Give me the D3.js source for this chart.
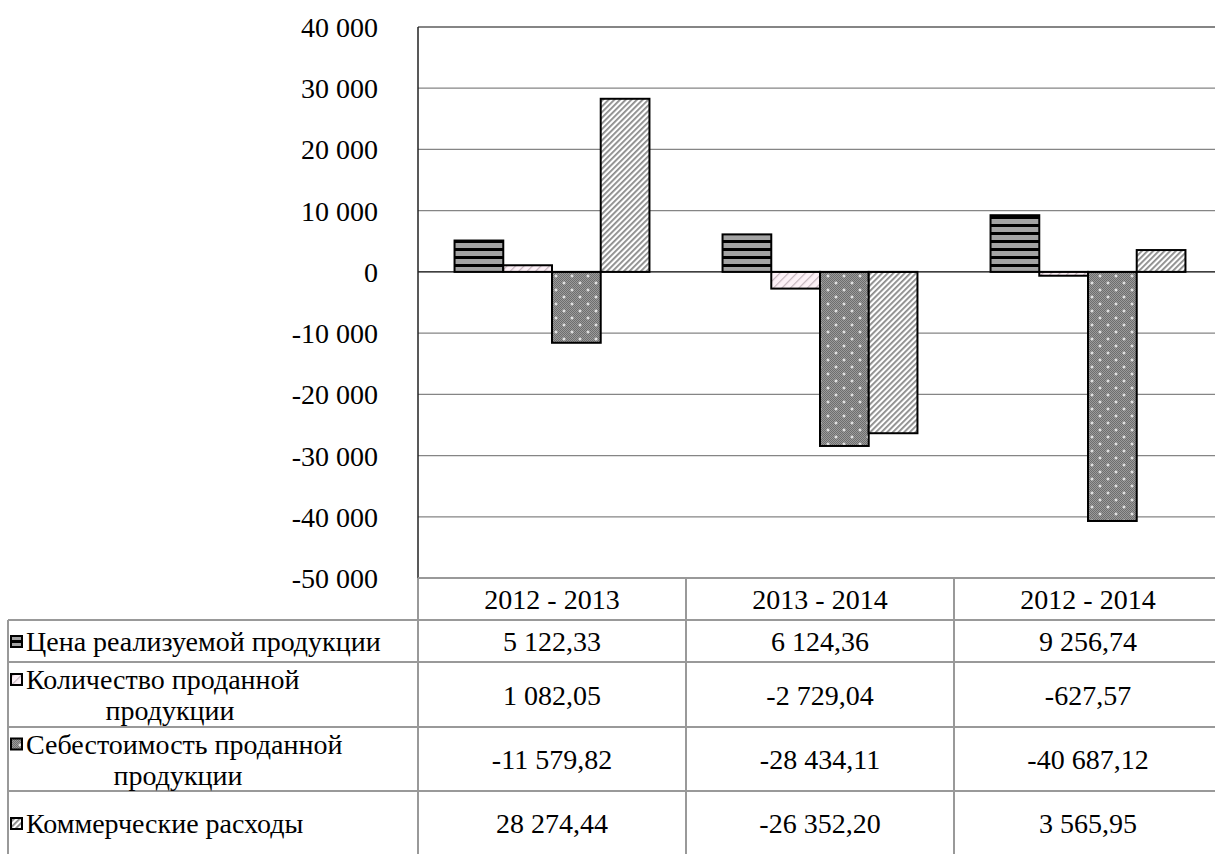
<!DOCTYPE html>
<html>
<head>
<meta charset="utf-8">
<script src="https://cdn.jsdelivr.net/npm/d3@7"></script>
<style>
  body { margin: 0; background: #fff; }
</style>
</head>
<body>
<div id="chart"></div>
<script>
// periods on the x axis (also the table header)
const periods = ["2012 - 2013", "2013 - 2014", "2012 - 2014"];

// series names, split the way the table wraps them
const seriesLabels = [
  ["Цена реализуемой продукции"],
  ["Количество проданной", "продукции"],
  ["Себестоимость проданной", "продукции"],
  ["Коммерческие расходы"]
];

// values per series, one per period
const priceValues = [5122.33, 6124.36, 9256.74];
const quantityValues = [1082.05, -2729.04, -627.57];
const costValues = [-11579.82, -28434.11, -40687.12];
const commercialValues = [28274.44, -26352.20, 3565.95];

const yTicks = [40000, 30000, 20000, 10000, 0, -10000, -20000, -30000, -40000, -50000];

const seriesValues = [priceValues, quantityValues, costValues, commercialValues];
const patternIds = ["p-price", "p-quantity", "p-cost", "p-commercial"];

const ru = d3.formatLocale({
  decimal: ",",
  thousands: " ",
  grouping: [3],
  currency: ["", ""],
  minus: "-"
});
const fmtTick = ru.format(",.0f");
const fmtValue = ru.format(",.2f");

class BarTable {
  constructor() {
    this.config = {
      parentElement: "#chart",
      width: 1215,
      height: 854,
      plotLeft: 418,
      plotRight: 1222,
      plotTop: 27,
      plotBottom: 578,
      tableLeft: 8,
      headerHeight: 42,
      rowHeights: [42, 65, 64, 64],
      wrapCenters: [0, 170, 178, 0], // x of the centred 2nd line of a wrapped label
      fontSize: 28
    };
    this.initVis();
  }

  initVis() {
    const vis = this;
    const c = vis.config;

    vis.svg = d3.select(c.parentElement)
      .append("svg")
      .attr("width", c.width)
      .attr("height", c.height);

    vis.addPatterns();

    vis.xScale = d3.scaleBand().domain(periods).range([c.plotLeft, c.plotRight]);
    vis.yScale = d3.scaleLinear()
      .domain([d3.min(yTicks), d3.max(yTicks)])
      .range([c.plotBottom, c.plotTop]);

    // bars: 4 per group, gap width 150%
    const band = vis.xScale.bandwidth();
    vis.barWidth = band / (seriesValues.length + 1.5);
    vis.innerScale = d3.scaleBand()
      .domain(d3.range(seriesValues.length))
      .range([0, vis.barWidth * seriesValues.length]);

    vis.updateVis();
  }

  addPatterns() {
    const defs = this.svg.append("defs");

    // horizontal black / grey stripes
    const p1 = defs.append("pattern").attr("id", "p-price")
      .attr("patternUnits", "userSpaceOnUse").attr("width", 8).attr("height", 8);
    p1.append("rect").attr("width", 8).attr("height", 8).attr("fill", "#a3a3a3");
    p1.append("rect").attr("width", 8).attr("height", 3).attr("fill", "#000");

    // pale pink with sparse diagonal hatch
    const p2 = defs.append("pattern").attr("id", "p-quantity")
      .attr("patternUnits", "userSpaceOnUse").attr("width", 6).attr("height", 6)
      .attr("patternTransform", "rotate(45)");
    p2.append("rect").attr("width", 6).attr("height", 6).attr("fill", "#fdf1f7");
    p2.append("rect").attr("width", 1.2).attr("height", 6).attr("fill", "#c4b4bc");

    // fine grey checker with white dots
    const chk = defs.append("pattern").attr("id", "p-checker")
      .attr("patternUnits", "userSpaceOnUse").attr("width", 2).attr("height", 2);
    chk.append("rect").attr("width", 2).attr("height", 2).attr("fill", "#9a9a9a");
    chk.append("rect").attr("width", 1).attr("height", 1).attr("fill", "#6e6e6e");
    chk.append("rect").attr("x", 1).attr("y", 1).attr("width", 1).attr("height", 1).attr("fill", "#6e6e6e");

    const p3 = defs.append("pattern").attr("id", "p-cost")
      .attr("patternUnits", "userSpaceOnUse").attr("width", 16).attr("height", 14);
    p3.append("rect").attr("width", 16).attr("height", 14).attr("fill", "url(#p-checker)");
    [[4, 3], [12, 10]].forEach(([x, y]) => {
      p3.append("rect").attr("x", x - 1.5).attr("y", y - 0.5).attr("width", 3).attr("height", 1).attr("fill", "#fff");
      p3.append("rect").attr("x", x - 0.5).attr("y", y - 1.5).attr("width", 1).attr("height", 3).attr("fill", "#fff");
    });

    // dense grey diagonal hatch
    const p4 = defs.append("pattern").attr("id", "p-commercial")
      .attr("patternUnits", "userSpaceOnUse").attr("width", 4).attr("height", 4)
      .attr("patternTransform", "rotate(45)");
    p4.append("rect").attr("width", 4).attr("height", 4).attr("fill", "#fff");
    p4.append("rect").attr("width", 1.8).attr("height", 4).attr("fill", "#8a8a8a");
  }

  // every label goes straight onto the svg with its own font
  label(x, y, txt, anchor) {
    const fs = this.config.fontSize;
    return this.svg.append("text")
      .attr("x", x)
      .attr("y", y + Math.round(fs * 0.34))
      .attr("text-anchor", anchor || "start")
      .style("font-family", '"Liberation Serif"')
      .attr("font-size", fs)
      .text(txt);
  }

  updateVis() {
    const vis = this;
    const c = vis.config;

    // gridlines
    vis.svg.append("g")
      .selectAll("line")
      .data(yTicks.filter(d => d !== 0))
      .join("line")
      .attr("x1", c.plotLeft)
      .attr("x2", c.width)
      .attr("y1", d => vis.yScale(d))
      .attr("y2", d => vis.yScale(d))
      .attr("stroke", "#858585")
      .attr("stroke-width", d => d === d3.max(yTicks) || d === d3.min(yTicks) ? 2 : 1.2);

    // bars
    const bars = [];
    seriesValues.forEach((vals, si) => {
      vals.forEach((v, pi) => bars.push({ si, pi, v }));
    });

    const band = vis.xScale.bandwidth();
    const groupOffset = (band - vis.barWidth * seriesValues.length) / 2;

    vis.svg.append("g")
      .selectAll("rect")
      .data(bars)
      .join("rect")
      .attr("x", d => vis.xScale(periods[d.pi]) + groupOffset + vis.innerScale(d.si))
      .attr("y", d => vis.yScale(Math.max(0, d.v)))
      .attr("width", vis.innerScale.bandwidth())
      .attr("height", d => Math.abs(vis.yScale(d.v) - vis.yScale(0)))
      .attr("fill", d => `url(#${patternIds[d.si]})`)
      .attr("stroke", "#000")
      .attr("stroke-width", 2);

    // zero line
    vis.svg.append("line")
      .attr("x1", c.plotLeft).attr("x2", c.width)
      .attr("y1", vis.yScale(0)).attr("y2", vis.yScale(0))
      .attr("stroke", "#000").attr("stroke-width", 1.2);

    // left axis line
    vis.svg.append("line")
      .attr("x1", c.plotLeft).attr("x2", c.plotLeft)
      .attr("y1", c.plotTop).attr("y2", c.plotBottom)
      .attr("stroke", "#222").attr("stroke-width", 1.5);

    // ---- data table ----
    const tbl = vis.svg.append("g");
    const lineColor = "#999";
    const headerTop = c.plotBottom;
    const headerBottom = headerTop + c.headerHeight;
    const rowTops = [];
    let yy = headerBottom;
    c.rowHeights.forEach(h => { rowTops.push(yy); yy += h; });

    // horizontal lines
    tbl.append("line")
      .attr("x1", c.plotLeft).attr("x2", c.width)
      .attr("y1", headerTop).attr("y2", headerTop)
      .attr("stroke", lineColor).attr("stroke-width", 2);
    tbl.selectAll("line.row")
      .data(rowTops)
      .join("line")
      .attr("class", "row")
      .attr("x1", c.tableLeft).attr("x2", c.width)
      .attr("y1", d => d).attr("y2", d => d)
      .attr("stroke", lineColor).attr("stroke-width", 2);

    // vertical lines
    tbl.append("line")
      .attr("x1", c.tableLeft).attr("x2", c.tableLeft)
      .attr("y1", headerBottom).attr("y2", c.height)
      .attr("stroke", lineColor).attr("stroke-width", 2);
    tbl.selectAll("line.col")
      .data(periods)
      .join("line")
      .attr("class", "col")
      .attr("x1", d => vis.xScale(d)).attr("x2", d => vis.xScale(d))
      .attr("y1", headerTop).attr("y2", c.height)
      .attr("stroke", lineColor).attr("stroke-width", 2);

    // legend keys
    const lineGap = 31;
    const keyX = c.tableLeft + 3;
    const textX = keyX + 15;
    const firstYs = seriesLabels.map((lines, si) =>
      rowTops[si] + c.rowHeights[si] / 2 - (lines.length - 1) * lineGap / 2);

    tbl.selectAll("rect.key")
      .data(firstYs)
      .join("rect")
      .attr("class", "key")
      .attr("x", keyX)
      .attr("y", d => d - 5)
      .attr("width", 11)
      .attr("height", 11)
      .attr("fill", (d, i) => `url(#${patternIds[i]})`)
      .attr("stroke", "#000")
      .attr("stroke-width", 2);

    // ---- all texts ----
    yTicks.forEach(t => vis.label(c.plotLeft - 40, vis.yScale(t), fmtTick(t), "end"));

    periods.forEach(p => vis.label(vis.xScale(p) + band / 2, (headerTop + headerBottom) / 2, p, "middle"));

    seriesLabels.forEach((lines, si) => {
      const mid = rowTops[si] + c.rowHeights[si] / 2;
      vis.label(textX, firstYs[si], lines[0]);
      lines.slice(1).forEach((ln, li) => {
        vis.label(c.wrapCenters[si], firstYs[si] + (li + 1) * lineGap, ln, "middle");
      });
      seriesValues[si].forEach((v, i) => {
        vis.label(vis.xScale(periods[i]) + band / 2, mid, fmtValue(v), "middle");
      });
    });
  }
}

const chart = new BarTable();
</script>
</body>
</html>
